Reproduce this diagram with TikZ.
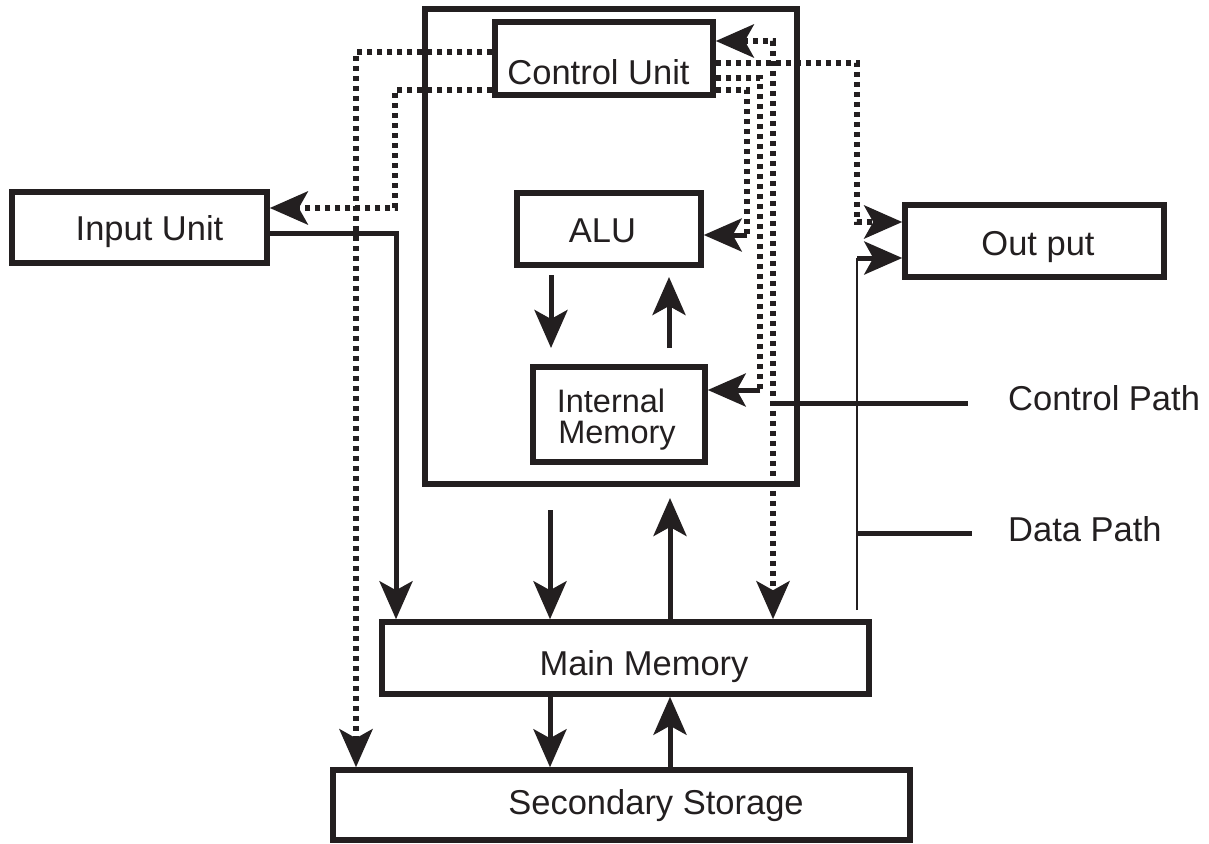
\documentclass[tikz,border=0pt]{standalone}
\usepackage{fontspec}
\setmainfont{Liberation Sans}
\usetikzlibrary{arrows.meta}
\definecolor{ink}{HTML}{231F20}
\begin{document}
\begin{tikzpicture}[x=1pt,y=-1pt,
  box/.style={draw=ink, line width=5.5pt, inner sep=0pt},
  lbl/.style={font=\fontsize{34.5}{40}\selectfont, text=ink, inner sep=0pt, anchor=base},
  sml/.style={font=\fontsize{32.5}{36}\selectfont, text=ink, inner sep=0pt, anchor=base},
  data/.style={draw=ink, line width=5pt},
  ctrl/.style={draw=ink, line width=6pt, dash pattern=on 5.5pt off 4.5pt},
  thinline/.style={draw=ink, line width=1.5pt},
  tip/.style={-{Stealth[length=38pt,width=33pt,inset=9pt]}},
  bitip/.style={{Stealth[length=38pt,width=33pt,inset=9pt]}-{Stealth[length=38pt,width=33pt,inset=9pt]}}
]
\useasboundingbox (0,0) rectangle (1209,843);

% boxes
\node[box, minimum width=372pt, minimum height=475pt] (cpu) at (611,246.5) {};
\node[box, minimum width=218pt, minimum height=73pt] (cu) at (604,58.5) {};
\node[box, minimum width=184pt, minimum height=72pt] (alu) at (609,229) {};
\node[box, minimum width=172pt, minimum height=95pt] (im) at (619,414.5) {};
\node[box, minimum width=255pt, minimum height=71pt] (iu) at (139.5,227.5) {};
\node[box, minimum width=259pt, minimum height=72pt] (out) at (1034.5,241) {};
\node[box, minimum width=487pt, minimum height=72pt] (mm) at (625.5,658) {};
\node[box, minimum width=577pt, minimum height=70pt] (ss) at (621.5,805) {};

% labels
\node[lbl] (cut) at (598.5,84) {Control Unit};
\node[lbl] (alut) at (602.5,242) {ALU};
\node[sml] (imt1) at (611,412) {Internal};
\node[sml] (imt2) at (617,443) {Memory};
\node[lbl] (iut) at (149.5,240) {Input Unit};
\node[lbl] (outt) at (1038,255) {Out put};
\node[lbl] (mmt) at (644,675) {Main Memory};
\node[lbl] (sst) at (656,814) {Secondary Storage};
\node[lbl, anchor=base west] (lcp) at (1008,410) {Control Path};
\node[lbl, anchor=base west] (ldp) at (1008,541) {Data Path};

% data paths
\coordinate (inA) at (396,233);
\draw[data,tip] (iu.east |- inA) -- (inA) -- (inA |- mm.north);
\coordinate (ad1) at (551,275); \coordinate (ad2) at (551,348);
\draw[data,tip] (ad1) -- (ad2);
\coordinate (au1) at (669,348); \coordinate (au2) at (669,277);
\draw[data,tip] (au1) -- (au2);
\coordinate (cd1) at (550,510);
\draw[data,tip] (cd1) -- (cd1 |- mm.north);
\coordinate (cu1) at (670,498);
\draw[data,tip] (mm.north -| cu1) -- (cu1);
\coordinate (sx1) at (550,700); \coordinate (sx2) at (670,700);
\draw[data,tip] (mm.south -| sx1) -- (ss.north -| sx1);
\draw[data,tip] (ss.north -| sx2) -- (mm.south -| sx2);
\coordinate (tA) at (857,610); \coordinate (tB) at (857,258);
\draw[thinline] (tA) -- (tB);
\draw[data,tip] (tB) -- (out.west |- tB);

% control paths
\coordinate (pA) at (356,52);
\draw[ctrl,tip] (cu.west |- pA) -- (pA) -- (pA |- ss.north);
\coordinate (pB1) at (395,90); \coordinate (pB2) at (395,208);
\draw[ctrl,tip] (cu.west |- pB1) -- (pB1) -- (pB2) -- (iu.east |- pB2);
\coordinate (pC) at (773,41);
\draw[ctrl,bitip] (cu.east |- pC) -- (pC) -- (pC |- mm.north);
\coordinate (pD1) at (857,63); \coordinate (pD2) at (857,222);
\draw[ctrl,tip] (cu.east |- pD1) -- (pD1) -- (pD2) -- (out.west |- pD2);
\coordinate (pE1) at (760,78); \coordinate (pE2) at (760,390);
\draw[ctrl] (cu.east |- pE1) -- (pE1) -- (pE2);
\draw[data,tip] (pE2) -- (im.east |- pE2);
\coordinate (pF1) at (747,90); \coordinate (pF2) at (747,235);
\draw[ctrl] (cu.east |- pF1) -- (pF1) -- (pF2);
\draw[data,tip] (pF2) -- (alu.east |- pF2);

% legend
\coordinate (lc1) at (775,403); \coordinate (lc2) at (968,403);
\draw[data] (lc1) -- (lc2);
\coordinate (ld1) at (857,533); \coordinate (ld2) at (972,533);
\draw[data] (ld1) -- (ld2);
\end{tikzpicture}
\end{document}
